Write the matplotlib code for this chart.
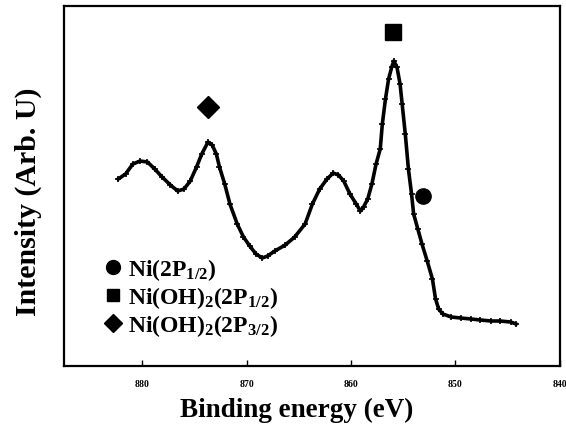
import matplotlib.pyplot as plt
from matplotlib.lines import Line2D

# ===== data =====
energy = [882.3, 881.6, 880.9, 880.2, 879.5, 878.8, 878.1, 877.3, 876.6, 876.0,
          875.4, 874.8, 874.3, 873.7, 873.3, 872.9, 872.6, 872.1, 871.6, 870.9,
          870.3, 869.7, 869.1, 868.5, 868.0, 867.3, 866.3, 865.4, 864.4, 863.7,
          863.0, 862.3, 861.7, 861.2, 860.7, 860.1, 859.5, 859.1, 858.8, 858.4,
          858.0, 857.6, 857.2, 857.0, 856.7, 856.4, 856.1, 855.9, 855.6, 855.3,
          855.1, 854.8, 854.5, 854.2, 854.0, 853.6, 853.2, 852.7, 852.2, 851.9,
          851.6, 851.2, 850.4, 849.5, 848.5, 847.6, 846.6, 845.7, 844.7, 844.2]
intensity = [187, 192, 202, 205, 204, 197, 189, 181, 175, 177,
             185, 199, 212, 224, 221, 212, 199, 182, 162, 142,
             129, 120, 112, 108, 110, 115, 121, 129, 142, 162,
             177, 187, 193, 191, 185, 172, 162, 155, 159, 167,
             182, 202, 217, 242, 267, 287, 299, 305, 299, 282,
             262, 232, 197, 172, 152, 137, 122, 105, 87, 67,
             57, 52, 49, 48, 47, 46, 45, 45, 44, 42]

ticks = [880, 870, 860, 850, 840]

# annotation symbols (energy, height)
diamond_pos = (873.7, 259)
square_pos = (856.0, 334)
circle_pos = (853.1, 170)

labels = [r'Ni(2P$_{1/2}$)', r'Ni(OH)$_2$(2P$_{1/2}$)', r'Ni(OH)$_2$(2P$_{3/2}$)']

# ===== plot =====
plt.rcParams['font.family'] = 'Liberation Serif'
plt.rcParams['font.weight'] = 'bold'
plt.rcParams['mathtext.fontset'] = 'custom'
plt.rcParams['mathtext.rm'] = 'Liberation Serif:bold'
plt.rcParams['mathtext.it'] = 'Liberation Serif:bold'
plt.rcParams['mathtext.bf'] = 'Liberation Serif:bold'

fig = plt.figure(figsize=(5.66, 4.39), dpi=100)
ax = fig.add_axes([0.113, 0.164, 0.876, 0.820])

ax.plot(energy, intensity, color='black', lw=2.6, marker='+', ms=5, mew=1.2)

ax.plot(*diamond_pos, marker='D', color='black', ms=11)
ax.plot(*square_pos, marker='s', color='black', ms=11)
ax.plot(*circle_pos, marker='o', color='black', ms=11)

ax.set_xlim(887.5, 840)
ax.set_ylim(0, 360)
ax.set_xticks(ticks)
ax.set_xticklabels([str(t) for t in ticks], fontsize=7, fontweight='bold')
ax.set_yticks([])
ax.tick_params(axis='x', direction='in', length=4, width=1, pad=9)
for s in ax.spines.values():
    s.set_linewidth(1.6)

fig.text(0.525, 0.064, 'Binding energy (eV)', fontsize=19.5, fontweight='bold',
         ha='center', va='center')
fig.text(0.05, 0.54, 'Intensity (Arb. U)', fontsize=21.5, fontweight='bold',
         ha='center', va='center', rotation=90)

handles = [Line2D([], [], ls='none', marker='o', color='black', ms=10),
           Line2D([], [], ls='none', marker='s', color='black', ms=9),
           Line2D([], [], ls='none', marker='D', color='black', ms=9)]
ax.legend(handles, labels, loc='lower left', bbox_to_anchor=(0.055, 0.052),
          frameon=False, fontsize=17, handletextpad=0.1, labelspacing=0.08,
          handlelength=1.05, borderaxespad=0)

plt.savefig('out.png', dpi=100)
plt.close()
